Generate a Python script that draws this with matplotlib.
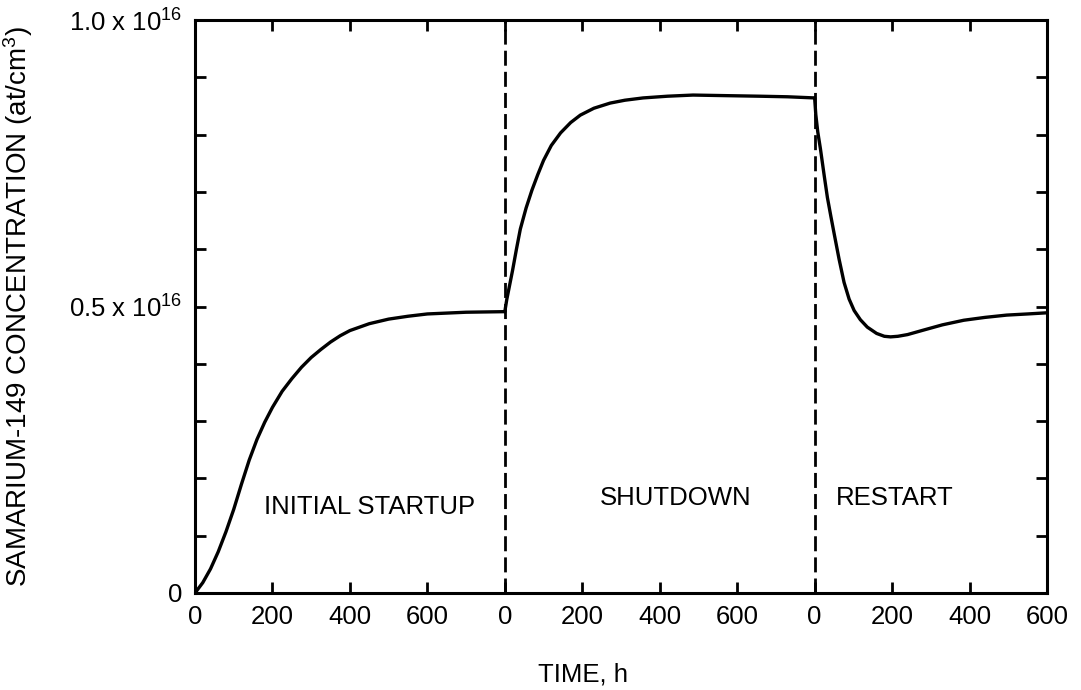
import numpy as np
import matplotlib
matplotlib.use("Agg")
import matplotlib.pyplot as plt

plt.rcParams['font.family'] = ['Liberation Sans', 'DejaVu Sans']
plt.rcParams['mathtext.fontset'] = 'custom'
plt.rcParams['mathtext.rm'] = 'Liberation Sans'
plt.rcParams['mathtext.it'] = 'Liberation Sans:italic'

# Sm-149 concentration, units of 1e16 at/cm3, time in hours within each phase
t_startup = [0, 20, 40, 60, 80, 100, 120, 140, 160, 180, 200, 225, 250, 275,
             300, 325, 350, 375, 400, 450, 500, 550, 600, 700, 800]
sm_startup = [0.0, 0.018, 0.042, 0.072, 0.107, 0.146, 0.190, 0.232, 0.268, 0.298,
              0.324, 0.352, 0.374, 0.394, 0.411, 0.425, 0.438, 0.449, 0.458,
              0.470, 0.478, 0.483, 0.487, 0.490, 0.491]

t_shutdown = [0, 5, 10, 20, 30, 40, 55, 70, 85, 100, 120, 144, 170, 195, 230,
              272, 310, 357, 420, 486, 570, 658, 730, 800]
sm_shutdown = [0.491, 0.512, 0.529, 0.563, 0.600, 0.635, 0.672, 0.703, 0.730,
               0.755, 0.781, 0.803, 0.821, 0.834, 0.846, 0.855, 0.860, 0.864,
               0.867, 0.869, 0.868, 0.867, 0.866, 0.864]

t_restart = [0, 3, 8, 15, 25, 33, 42, 51, 63, 76, 89, 102, 118, 136, 160, 180,
             196, 215, 240, 282, 330, 385, 440, 496, 550, 600]
sm_restart = [0.864, 0.835, 0.805, 0.775, 0.727, 0.690, 0.657, 0.625, 0.583,
              0.542, 0.513, 0.493, 0.477, 0.464, 0.453, 0.448, 0.447, 0.448,
              0.451, 0.459, 0.468, 0.476, 0.481, 0.485, 0.487, 0.489]

phase_len = [800, 800, 600]
phase_names = ["INITIAL STARTUP", "SHUTDOWN", "RESTART"]
phase_label_x = [452, 441, 207]
phase_label_y = [0.150, 0.166, 0.166]

tick_step = 200
y_ticks = np.arange(0, 1.01, 0.1)
y_labels = {0.0: "0", 0.5: r"0.5 x 10$^{16}$", 1.0: r"1.0 x 10$^{16}$"}

fs = 18.5

fig = plt.figure(figsize=(10.81, 6.90), dpi=100)
ax = fig.add_axes([195 / 1081, 97 / 690, 852 / 1081, 573 / 690])

offsets = np.concatenate([[0], np.cumsum(phase_len)[:-1]])
segments = [(t_startup, sm_startup), (t_shutdown, sm_shutdown), (t_restart, sm_restart)]
for off, (t, v) in zip(offsets, segments):
    ax.plot(np.array(t) + off, v, color='black', lw=2.4,
            solid_joinstyle='round', solid_capstyle='round')

for off in offsets[1:]:
    ax.plot([off, off], [0, 1.0], color='black', lw=2.0, dashes=(5.4, 2.2))

for off, name, lx, ly in zip(offsets, phase_names, phase_label_x, phase_label_y):
    ax.text(off + lx, ly, name, ha='center', va='center', fontsize=fs)

total = sum(phase_len)
ax.set_xlim(0, total)
ax.set_ylim(0, 1.0)

# each phase restarts its own time scale at 0
xt, xl = [], []
for off, L in zip(offsets, phase_len):
    for k in range(0, L + 1, tick_step):
        if off + k in xt:
            xl[xt.index(off + k)] = str(k)
        else:
            xt.append(off + k)
            xl.append(str(k))
ax.set_xticks(xt)
ax.set_xticklabels(xl)

ax.set_yticks(y_ticks)
ax.set_yticklabels([y_labels.get(round(y, 1), "") for y in y_ticks])

ax.tick_params(direction='in', length=8, width=2, labelsize=fs, pad=9,
               top=True, right=True)
for s in ax.spines.values():
    s.set_linewidth(2.2)

ax.set_xlabel("TIME, h", fontsize=fs)
ax.xaxis.set_label_coords(0.455, -0.122)
ax.set_ylabel("SAMARIUM-149 CONCENTRATION (at/cm$^3$)", fontsize=20)
ax.yaxis.set_label_coords(-0.188, 0.5)

fig.savefig("out.png", dpi=100)
